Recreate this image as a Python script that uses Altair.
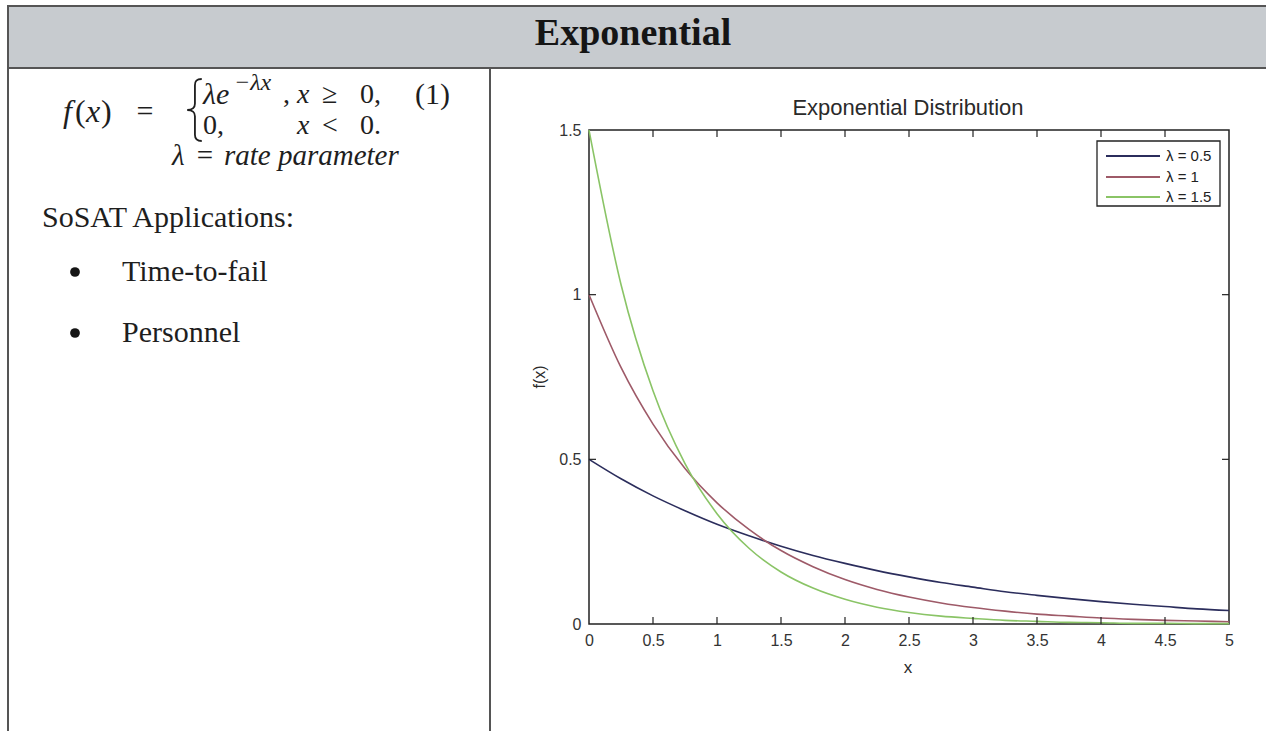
import altair as alt
import pandas as pd

# ---------------- data ----------------
x_vals = [0, 0.25, 0.5, 0.75, 1, 1.25, 1.5, 1.75, 2, 2.25, 2.5, 2.75, 3,
          3.25, 3.5, 3.75, 4, 4.25, 4.5, 4.75, 5]
f_lam05 = [0.500, 0.441, 0.389, 0.344, 0.303, 0.268, 0.236, 0.208, 0.184, 0.162,
           0.143, 0.126, 0.112, 0.098, 0.087, 0.077, 0.068, 0.060, 0.053, 0.046, 0.041]
f_lam10 = [1.000, 0.779, 0.607, 0.472, 0.368, 0.287, 0.223, 0.174, 0.135, 0.105,
           0.082, 0.064, 0.050, 0.039, 0.030, 0.024, 0.018, 0.014, 0.011, 0.009, 0.007]
f_lam15 = [1.500, 1.031, 0.708, 0.487, 0.335, 0.230, 0.158, 0.109, 0.075, 0.051,
           0.035, 0.024, 0.017, 0.011, 0.008, 0.005, 0.004, 0.002, 0.002, 0.001, 0.001]
series_labels = ["λ = 0.5", "λ = 1", "λ = 1.5"]
series_colors = ["#2b2d5c", "#9e5a68", "#8ac466"]
x_ticks = [0, 0.5, 1, 1.5, 2, 2.5, 3, 3.5, 4, 4.5, 5]
y_ticks = [0, 0.5, 1, 1.5]

header_text = "Exponential"
plot_title = "Exponential Distribution"
app_heading = "SoSAT Applications:"
app_items = ["Time-to-fail", "Personnel"]

# ---------------- layout ----------------
OX, OY = 589, 130          # plot-area origin in page pixels
W, H = 640, 494            # plot-area size
PAGE_W, PAGE_H = 1266, 731
HEAD_TOP, HEAD_BOT = 6, 68

SERIF = "Liberation Serif"
SANS = "Liberation Sans"

one = pd.DataFrame({"k": [0]})

rows = []
for lab, vals in zip(series_labels, [f_lam05, f_lam10, f_lam15]):
    for xv, fv in zip(x_vals, vals):
        rows.append({"x": xv, "f": fv, "series": lab})
df = pd.DataFrame(rows)

xs = alt.Scale(domain=[0, 5], nice=False, zero=False)
ys = alt.Scale(domain=[0, 1.5], nice=False, zero=False)

axis_x = alt.Axis(values=x_ticks, format="~g", ticks=False, tickSize=0, domain=False,
                  grid=False, labelFont=SANS, labelFontSize=16, labelColor="#333",
                  labelPadding=8, labelFlush=False, labelOverlap=False, title=None)
axis_y = alt.Axis(values=y_ticks, format="~g", ticks=False, tickSize=0, domain=False,
                  grid=False, labelFont=SANS, labelFontSize=16, labelColor="#333",
                  labelPadding=8, labelOverlap=False, title=None)


def txt(s, X, Y, size, font, style="normal", weight="normal", align="left",
        baseline="middle", angle=0, color="#1e1e1e"):
    return alt.Chart(one).mark_text(
        text=s, fontSize=size, font=font, fontStyle=style, fontWeight=weight,
        align=align, baseline=baseline, angle=angle, color=color
    ).encode(x=alt.value(X - OX), y=alt.value(Y - OY))


def hrule(X1, X2, Y, color, width):
    return alt.Chart(one).mark_rule(color=color, strokeWidth=width).encode(
        x=alt.value(X1 - OX), x2=alt.value(X2 - OX), y=alt.value(Y - OY))


def vrule(X, Y1, Y2, color, width):
    return alt.Chart(one).mark_rule(color=color, strokeWidth=width).encode(
        x=alt.value(X - OX), y=alt.value(Y1 - OY), y2=alt.value(Y2 - OY))


layers = []

# ---- table frame / header ----
layers.append(alt.Chart(one).mark_rect(fill="#c7cbcf", stroke="#555", strokeWidth=2).encode(
    x=alt.value(8 - OX), x2=alt.value(PAGE_W + 4 - OX),
    y=alt.value(HEAD_TOP - OY), y2=alt.value(HEAD_BOT - OY)))
layers.append(vrule(8, HEAD_BOT, PAGE_H + 2, "#555", 2))
layers.append(vrule(490, HEAD_BOT, PAGE_H + 2, "#555", 2))
layers.append(txt(header_text, 633, 34, 38, SERIF, weight="bold", align="center",
                  color="#151515"))

# ---- formula ----
MS = 28
R1, R2, RM, RL = 95, 126, 112, 156
layers.append(txt("f", 63, RM, 32, SERIF, style="italic"))
layers.append(txt("(", 75, RM, 32, SERIF))
layers.append(txt("x", 86, RM, 32, SERIF, style="italic"))
layers.append(txt(")", 101, RM, 32, SERIF))
layers.append(txt("=", 145, RM, 30, SERIF, align="center"))
brace = ("M0.25,-1 C0.08,-1 0.03,-0.93 0.03,-0.8 L0.03,-0.2 C0.03,-0.07 -0.05,0 -0.22,0 "
         "C-0.05,0 0.03,0.07 0.03,0.2 L0.03,0.8 C0.03,0.93 0.08,1 0.25,1")
layers.append(alt.Chart(one).mark_point(shape=brace, filled=False, stroke="#1e1e1e",
                                        strokeWidth=1.8, size=3844, opacity=1).encode(
    x=alt.value(194 - OX), y=alt.value(110 - OY)))
layers.append(txt("λe", 203, R1, 30, SERIF, style="italic"))
layers.append(txt("−λx", 234, 83, 24, SERIF, style="italic"))
layers.append(txt(",", 283, R1, MS, SERIF))
layers.append(txt("x", 297, R1, MS, SERIF, style="italic"))
layers.append(txt("≥", 322, R1, MS, SERIF))
layers.append(txt("0,", 360, R1, MS, SERIF))
layers.append(txt("(1)", 415, R1, 30, SERIF))
layers.append(txt("0,", 203, R2, MS, SERIF))
layers.append(txt("x", 297, R2, MS, SERIF, style="italic"))
layers.append(txt("<", 322, R2, MS, SERIF))
layers.append(txt("0.", 360, R2, MS, SERIF))
layers.append(txt("λ", 172, RL, 29, SERIF, style="italic"))
layers.append(txt("=", 205, RL, 29, SERIF, align="center"))
layers.append(txt("rate parameter", 224, RL, 29, SERIF, style="italic"))

# ---- applications ----
layers.append(txt(app_heading, 42, 218, 30, SERIF))
for item, yy in zip(app_items, [272, 333]):
    layers.append(alt.Chart(one).mark_circle(size=95, color="#151515", opacity=1).encode(
        x=alt.value(75 - OX), y=alt.value(yy - OY)))
    layers.append(txt(item, 122, yy, 30, SERIF))

# ---- plot ----
lines = alt.Chart(df).mark_line(strokeWidth=1.6, interpolate="monotone").encode(
    x=alt.X("x:Q", scale=xs, axis=axis_x),
    y=alt.Y("f:Q", scale=ys, axis=axis_y),
    color=alt.Color("series:N", scale=alt.Scale(domain=series_labels, range=series_colors),
                    legend=None),
)
layers.append(lines)

tx = pd.DataFrame({"x": x_ticks[1:-1]})
ty = pd.DataFrame({"f": y_ticks[1:-1]})
TK = 7
layers.append(alt.Chart(tx).mark_rule(color="#222", strokeWidth=1.2).encode(
    x=alt.X("x:Q", scale=xs, axis=axis_x), y=alt.value(H), y2=alt.value(H - TK)))
layers.append(alt.Chart(tx).mark_rule(color="#222", strokeWidth=1.2).encode(
    x=alt.X("x:Q", scale=xs, axis=axis_x), y=alt.value(0), y2=alt.value(TK)))
layers.append(alt.Chart(ty).mark_rule(color="#222", strokeWidth=1.2).encode(
    y=alt.Y("f:Q", scale=ys, axis=axis_y), x=alt.value(0), x2=alt.value(TK)))
layers.append(alt.Chart(ty).mark_rule(color="#222", strokeWidth=1.2).encode(
    y=alt.Y("f:Q", scale=ys, axis=axis_y), x=alt.value(W), x2=alt.value(W - TK)))

layers.append(txt(plot_title, 908, 108, 22, SANS, align="center", color="#2a2a2a"))
layers.append(txt("f(x)", 540, 377, 16, SANS, align="center", angle=270, color="#2a2a2a"))
layers.append(txt("x", 908, 668, 17, SANS, align="center", color="#2a2a2a"))

# ---- legend ----
layers.append(alt.Chart(one).mark_rect(fill="white", stroke="#222", strokeWidth=1.3).encode(
    x=alt.value(1097 - OX), x2=alt.value(1220 - OX),
    y=alt.value(141 - OY), y2=alt.value(206 - OY)))
for lab, col, yy in zip(series_labels, series_colors, [156, 177, 197]):
    layers.append(hrule(1106, 1160, yy, col, 1.8))
    layers.append(txt(lab, 1166, yy, 15, SANS, color="#222"))

chart = alt.layer(*layers).properties(
    width=W, height=H,
    autosize=alt.AutoSizeParams(type="none"),
    padding={"left": OX, "top": OY, "right": PAGE_W - OX - W, "bottom": PAGE_H - OY - H},
    background="white",
).configure_view(stroke="#222", strokeWidth=1.5)

chart.save("out.html", embed_options={"renderer": "svg", "actions": False})
